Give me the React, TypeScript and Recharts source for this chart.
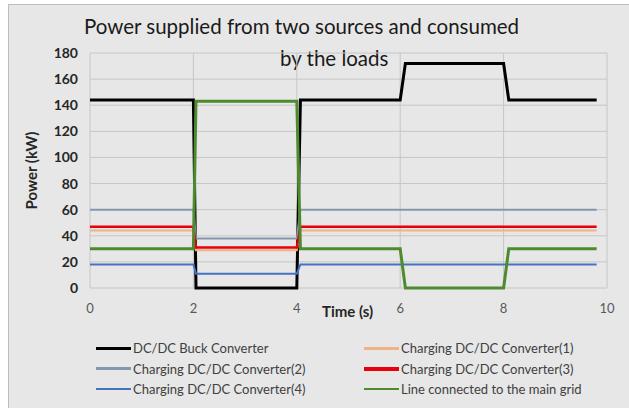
import React from 'react';
import { LineChart, Line, XAxis, YAxis, CartesianGrid } from 'recharts';

// time axis (s) - step edges
const time = [0, 2, 2.05, 4, 4.07, 6, 6.1, 8, 8.1, 9.8];

const buckConverter = [144, 144, 0, 0, 144, 144, 172, 172, 144, 144];
const converter1 = [44, 44, 29, 29, 44, 44, 44, 44, 44, 44];
const converter2 = [60, 60, 38, 38, 60, 60, 60, 60, 60, 60];
const converter3 = [47, 47, 31, 31, 47, 47, 47, 47, 47, 47];
const converter4 = [18, 18, 11, 11, 18, 18, 18, 18, 18, 18];
const mainGrid = [30, 30, 143, 143, 30, 30, 0, 0, 30, 30];

const xTicks = [0, 2, 4, 6, 8, 10];
const yTicks = [0, 20, 40, 60, 80, 100, 120, 140, 160, 180];

const FONT = 'Lato, "Open Sans", sans-serif';

const series = [
  { key: 'buck', name: 'DC/DC Buck Converter', color: '#000000', width: 3, legendWidth: 3 },
  { key: 'c1', name: 'Charging DC/DC Converter(1)', color: '#f4b183', width: 2, legendWidth: 3 },
  { key: 'c2', name: 'Charging DC/DC Converter(2)', color: '#8497b0', width: 2, legendWidth: 3 },
  { key: 'c3', name: 'Charging DC/DC Converter(3)', color: '#e8000b', width: 2.5, legendWidth: 4 },
  { key: 'c4', name: 'Charging DC/DC Converter(4)', color: '#4472c4', width: 2, legendWidth: 2 },
  { key: 'grid', name: 'Line connected to the main grid', color: '#4e8a2e', width: 3, legendWidth: 2 },
];

const data = time.map((t, i) => ({
  t,
  buck: buckConverter[i],
  c1: converter1[i],
  c2: converter2[i],
  c3: converter3[i],
  c4: converter4[i],
  grid: mainGrid[i],
}));

// legend is two columns, Excel style
const legendOrder = [
  ['buck', 'c1'],
  ['c2', 'c3'],
  ['c4', 'grid'],
];

const ChartLegend: React.FC = () => (
  <div style={{ position: 'absolute', left: 0, top: 339, width: 629, height: 60, fontFamily: FONT, fontSize: 13, color: '#404040' }}>
    {legendOrder.map((row, r) =>
      row.map((key, c) => {
        const s = series.find((x) => x.key === key)!;
        return (
          <div
            key={key}
            style={{
              position: 'absolute',
              left: c === 0 ? 96 : 364,
              top: r * 20.5,
              display: 'flex',
              alignItems: 'center',
              height: 18,
              whiteSpace: 'nowrap',
            }}
          >
            <span style={{ display: 'inline-block', width: 35, height: s.legendWidth, background: s.color, marginRight: 2 }} />
            <span>{s.name}</span>
          </div>
        );
      })
    )}
  </div>
);

const App: React.FC = () => {
  return (
    <div style={{ position: 'absolute', left: 0, top: 0, width: 629, height: 408, background: '#ffffff', overflow: 'hidden' }}>
      <div
        style={{
          position: 'absolute',
          left: 8,
          top: 4,
          width: 640,
          height: 420,
          background: '#e7e7e7',
          borderLeft: '1px solid #bdbdbd',
          borderTop: '1px solid #bdbdbd',
        }}
      />
      <div style={{ position: 'absolute', left: 0, top: 14, width: 629, fontFamily: FONT, fontSize: 20.5, color: '#1a1a1a' }}>
        <div style={{ position: 'absolute', left: 84, whiteSpace: 'nowrap' }}>Power supplied from two sources and consumed</div>
        <div style={{ position: 'absolute', left: 280, top: 32, whiteSpace: 'nowrap' }}>by the loads</div>
      </div>
      <div style={{ position: 'absolute', left: 0, top: 0 }}>
        <LineChart width={629} height={408} data={data} margin={{ top: 53, right: 22, bottom: 90, left: 0 }}>
          <CartesianGrid stroke="#c6c6c6" strokeWidth={1} />
          <XAxis
            dataKey="t"
            type="number"
            domain={[0, 10]}
            ticks={xTicks}
            interval={0}
            axisLine={false}
            tickLine={false}
            tickSize={0}
            tickMargin={16}
            tick={{ fill: '#595959', fontSize: 13, fontFamily: FONT }}
            height={30}
          />
          <YAxis
            type="number"
            domain={[0, 180]}
            ticks={yTicks}
            interval={0}
            axisLine={false}
            tickLine={false}
            tickSize={0}
            tickMargin={12}
            width={90}
            tick={{ fill: '#262626', fontSize: 14, fontWeight: 'bold', fontFamily: FONT }}
            label={{
              value: 'Power (kW)',
              angle: -90,
              position: 'insideLeft',
              offset: 32,
              style: { fill: '#262626', fontSize: 15, fontWeight: 'bold', fontFamily: FONT, textAnchor: 'middle' },
            }}
          />
          {series.map((s) => (
            <Line
              key={s.key}
              dataKey={s.key}
              name={s.name}
              type="linear"
              stroke={s.color}
              strokeWidth={s.width}
              dot={false}
              activeDot={false}
              isAnimationActive={false}
            />
          ))}
        </LineChart>
      </div>
      <div
        style={{
          position: 'absolute',
          left: 322,
          top: 302,
          fontFamily: FONT,
          fontSize: 15,
          fontWeight: 'bold',
          color: '#262626',
          whiteSpace: 'nowrap',
        }}
      >
        Time (s)
      </div>
      <ChartLegend />
    </div>
  );
};

export default App;
